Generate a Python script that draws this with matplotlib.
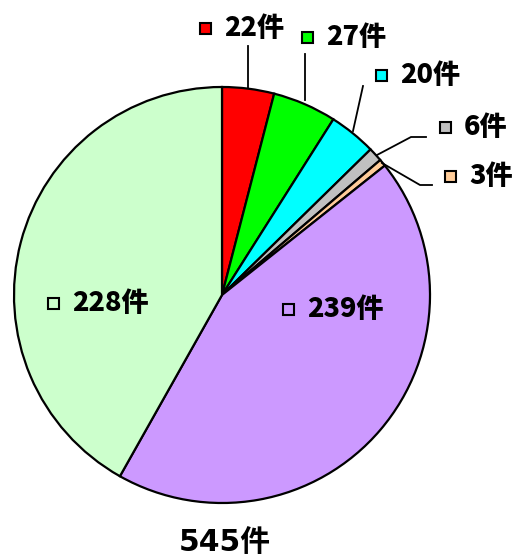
import matplotlib.pyplot as plt
from matplotlib.patches import Rectangle

plt.rcParams['font.family'] = ['Noto Sans CJK JP', 'DejaVu Sans']

# slice values, clockwise from 12 o'clock
counts = [22, 27, 20, 6, 3, 239, 228]
colors = ['#FF0000', '#00FF00', '#00FFFF', '#C0C0C0', '#FFCC99', '#CC99FF', '#CCFFCC']
labels = [f'{c}件' for c in counts]
total_label = f'{sum(counts)}件'

W, H = 514, 556
fig = plt.figure(figsize=(W / 100, H / 100), dpi=100)
ax = fig.add_axes([0, 0, 1, 1])

def py(y):
    # pixel row -> data y
    return H - y

ax.pie(counts, colors=colors, startangle=90, counterclock=False,
       center=(222, py(295)), radius=208, frame=True,
       wedgeprops=dict(edgecolor='black', linewidth=1.6))
ax.set_xlim(0, W)
ax.set_ylim(0, H)
ax.set_aspect('equal')
ax.axis('off')

# label layout (pixel coords: square left x, text left x, centre y)
label_pos = [(200, 224, 28), (302, 326, 37), (376, 400, 75),
             (440, 464, 127), (445, 469, 176), (283, 307, 309), (48, 72, 303)]
for (sx, tx, cy), lab, col in zip(label_pos, labels, colors):
    ax.add_patch(Rectangle((sx, py(cy) - 5.5), 11, 11, facecolor=col,
                           edgecolor='black', linewidth=1.5, zorder=5))
    ax.text(tx, py(cy), lab, fontsize=19.5, fontweight='heavy',
            va='center', ha='left', zorder=5)

# leader lines
leaders = [
    [(248, 46), (248, 88)],
    [(305, 54), (305, 100)],
    [(363, 86), (353, 131)],
    [(426, 137), (411, 137), (377, 155)],
    [(382, 163), (420, 185), (432, 185)],
]
for pts in leaders:
    ax.plot([p[0] for p in pts], [py(p[1]) for p in pts], color='black', lw=1.3)

ax.text(225, py(543), total_label, fontsize=21.5, fontweight='bold',
        family=['DejaVu Sans', 'Noto Sans CJK JP'], ha='center', va='center')

fig.savefig('out.png', dpi=100)
